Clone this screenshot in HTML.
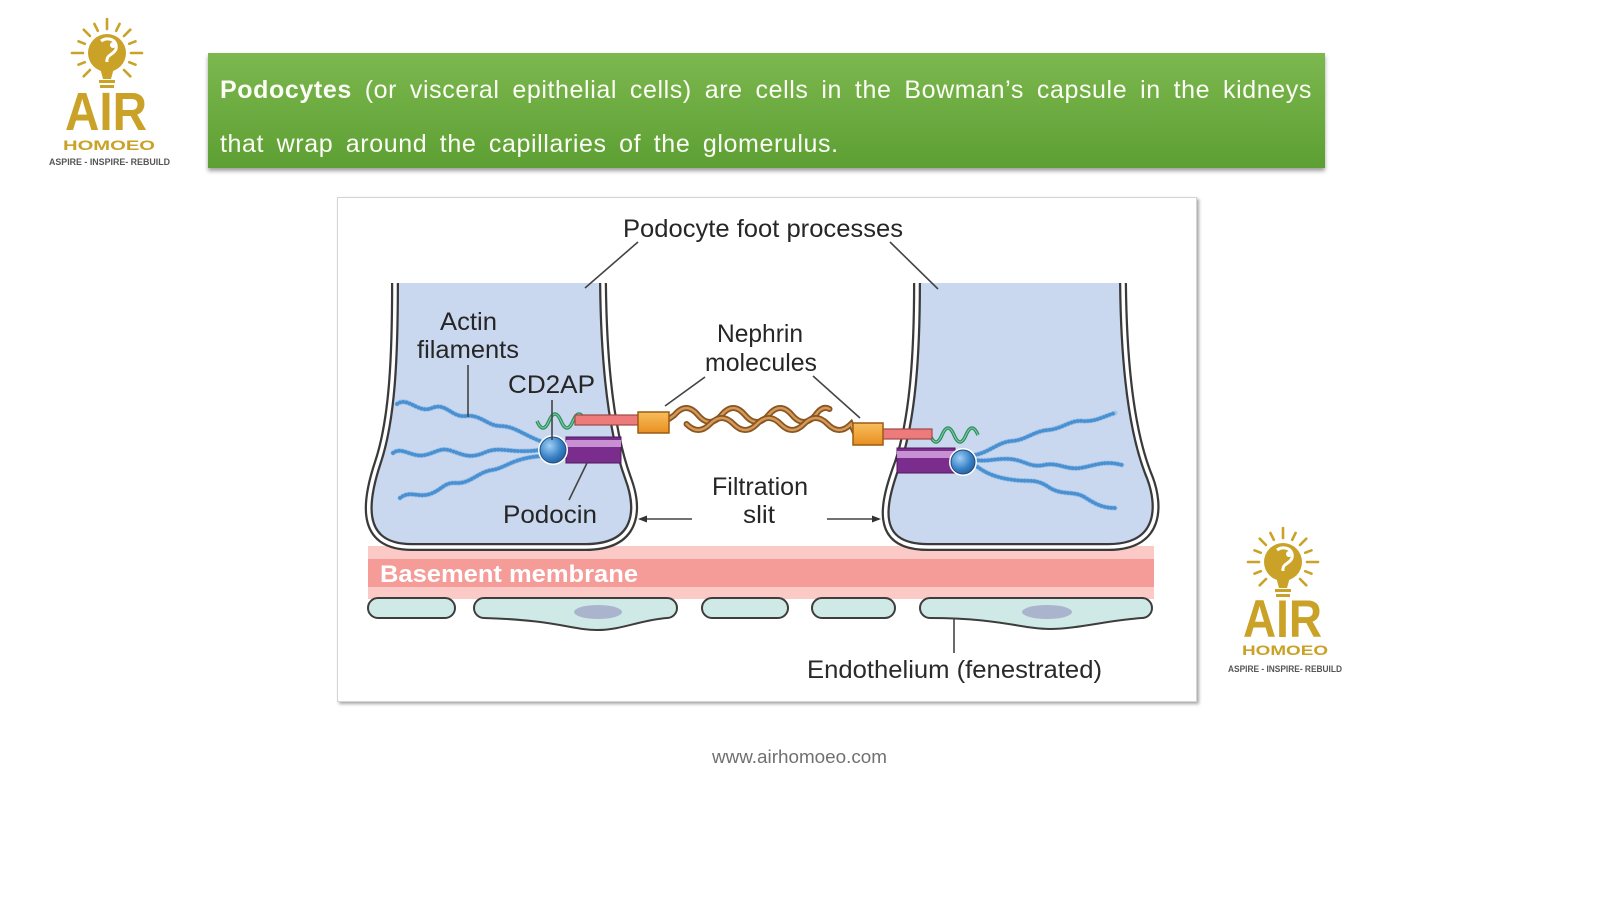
<!DOCTYPE html>
<html><head><meta charset="utf-8">
<style>
html,body{margin:0;padding:0;background:#fff;}
body{width:1600px;height:900px;position:relative;overflow:hidden;font-family:"Liberation Sans",Arial,sans-serif;}
#banner{position:absolute;left:208px;top:53px;width:1117px;height:115px;background:linear-gradient(#7cb84f,#5d9f33);box-shadow:0 3px 4px rgba(0,0,0,.38);}
.bl{position:absolute;left:220px;width:1092px;font-size:25px;line-height:30px;color:#fbfdf6;letter-spacing:0.6px;white-space:normal;}
#l1{top:75px;text-align:justify;text-align-last:justify;}
#l2{top:129px;word-spacing:5px;}
#fig{position:absolute;left:337px;top:197px;width:858px;height:503px;border:1px solid #d4d4d4;box-shadow:2px 2px 3px rgba(0,0,0,.35);background:#fff;}
svg{position:absolute;left:0;top:0;}
</style></head>
<body>
<div id="banner"></div>
<div class="bl" id="l1"><b>Podocytes</b> (or visceral epithelial cells) are cells in the Bowman’s capsule in the kidneys</div>
<div class="bl" id="l2">that wrap around the capillaries of the glomerulus.</div>
<div id="fig"></div>

<svg width="1600" height="900" viewBox="0 0 1600 900" xmlns="http://www.w3.org/2000/svg" font-family="Liberation Sans, Arial, sans-serif">
<defs>
<radialGradient id="sph" cx="0.38" cy="0.35" r="0.7">
<stop offset="0" stop-color="#9fd0f6"/><stop offset="0.6" stop-color="#3b82c8"/><stop offset="1" stop-color="#245a94"/>
</radialGradient>
<linearGradient id="org" x1="0" y1="0" x2="0" y2="1">
<stop offset="0" stop-color="#f8be5c"/><stop offset="1" stop-color="#e88f22"/>
</linearGradient>
</defs>

<!-- LEFT LOGO -->
<g>
<g stroke="#c9a227" stroke-width="2.6" stroke-linecap="round">
<line x1="107" y1="29" x2="107" y2="19"/>
<line x1="116.2" y1="30.8" x2="119.6" y2="23.9"/>
<line x1="124" y1="36" x2="130.3" y2="29.7"/>
<line x1="129.2" y1="43.8" x2="135.5" y2="41.3"/>
<line x1="131" y1="53" x2="142" y2="53"/>
<line x1="129.2" y1="62.2" x2="135.5" y2="64.7"/>
<line x1="124" y1="70" x2="130.3" y2="76.3"/>
<line x1="97.8" y1="30.8" x2="94.4" y2="23.9"/>
<line x1="90" y1="36" x2="83.7" y2="29.7"/>
<line x1="84.8" y1="43.8" x2="78.5" y2="41.3"/>
<line x1="83" y1="53" x2="72" y2="53"/>
<line x1="84.8" y1="62.2" x2="78.5" y2="64.7"/>
<line x1="90" y1="70" x2="83.7" y2="76.3"/>
</g>
<circle cx="107" cy="53" r="19" fill="#c9a227"/>
<path d="M101,41 C108,36 118,40 116,49 C114,55 106,54 107,62" fill="none" stroke="#fff" stroke-width="3"/>
<circle cx="113" cy="45" r="3" fill="#fff"/>
<path d="M100,68 L114,68 L111,79 L103,79 Z" fill="#c9a227"/>
<rect x="99" y="80" width="16" height="3" fill="#c9a227"/>
<rect x="100" y="85" width="14" height="3" fill="#c9a227"/>
<text x="65" y="130" font-size="54" font-weight="bold" fill="#c9a227" textLength="82" lengthAdjust="spacingAndGlyphs">AIR</text>
<text x="63" y="150" font-size="14" font-weight="bold" fill="#c9a227" textLength="92" lengthAdjust="spacingAndGlyphs">HOMOEO</text>
<text x="49" y="165" font-size="9" font-weight="bold" fill="#555" textLength="121" lengthAdjust="spacingAndGlyphs">ASPIRE - INSPIRE- REBUILD</text>
</g>

<!-- RIGHT LOGO -->
<g transform="translate(1176,509)">
<g stroke="#c9a227" stroke-width="2.6" stroke-linecap="round">
<line x1="107" y1="29" x2="107" y2="19"/>
<line x1="116.2" y1="30.8" x2="119.6" y2="23.9"/>
<line x1="124" y1="36" x2="130.3" y2="29.7"/>
<line x1="129.2" y1="43.8" x2="135.5" y2="41.3"/>
<line x1="131" y1="53" x2="142" y2="53"/>
<line x1="129.2" y1="62.2" x2="135.5" y2="64.7"/>
<line x1="124" y1="70" x2="130.3" y2="76.3"/>
<line x1="97.8" y1="30.8" x2="94.4" y2="23.9"/>
<line x1="90" y1="36" x2="83.7" y2="29.7"/>
<line x1="84.8" y1="43.8" x2="78.5" y2="41.3"/>
<line x1="83" y1="53" x2="72" y2="53"/>
<line x1="84.8" y1="62.2" x2="78.5" y2="64.7"/>
<line x1="90" y1="70" x2="83.7" y2="76.3"/>
</g>
<circle cx="107" cy="53" r="19" fill="#c9a227"/>
<path d="M101,41 C108,36 118,40 116,49 C114,55 106,54 107,62" fill="none" stroke="#fff" stroke-width="3"/>
<circle cx="113" cy="45" r="3" fill="#fff"/>
<path d="M100,68 L114,68 L111,79 L103,79 Z" fill="#c9a227"/>
<rect x="99" y="80" width="16" height="3" fill="#c9a227"/>
<rect x="100" y="85" width="14" height="3" fill="#c9a227"/>
<text x="67" y="128" font-size="53" font-weight="bold" fill="#c9a227" textLength="79" lengthAdjust="spacingAndGlyphs">AIR</text>
<text x="66" y="146" font-size="14" font-weight="bold" fill="#c9a227" textLength="86" lengthAdjust="spacingAndGlyphs">HOMOEO</text>
<text x="52" y="163" font-size="9" font-weight="bold" fill="#555" textLength="114" lengthAdjust="spacingAndGlyphs">ASPIRE - INSPIRE- REBUILD</text>
</g>

<!-- BASEMENT MEMBRANE -->
<rect x="368" y="546" width="786" height="53" fill="#fbcac6"/>
<rect x="368" y="559" width="786" height="28" fill="#f59b98"/>
<text x="380" y="582" font-size="24" font-weight="bold" fill="#fff" textLength="258" lengthAdjust="spacingAndGlyphs">Basement membrane</text>

<!-- ENDOTHELIUM -->
<g fill="#cfe9e6" stroke="#3d3d3d" stroke-width="2">
<rect x="368" y="598" width="87" height="20" rx="10"/>
<path d="M484,598 L667,598 A10,10 0 0 1 667,618 C640,620 622,630 597,630 C572,630 556,620 484,618 A10,10 0 0 1 484,598 Z"/>
<rect x="702" y="598" width="86" height="20" rx="10"/>
<rect x="812" y="598" width="83" height="20" rx="10"/>
<path d="M930,598 L1142,598 A10,10 0 0 1 1142,618 C1110,620 1076,629 1050,629 C1022,629 1000,618 930,618 A10,10 0 0 1 930,598 Z"/>
</g>
<ellipse cx="598" cy="612" rx="24" ry="7" fill="#aab5cd"/>
<ellipse cx="1047" cy="612" rx="25" ry="7" fill="#aab5cd"/>
<line x1="954" y1="618" x2="954" y2="653" stroke="#444" stroke-width="1.6"/>
<text x="807" y="678" font-size="25" fill="#2a2a2a" textLength="295" lengthAdjust="spacingAndGlyphs">Endothelium (fenestrated)</text>

<!-- CELLS -->
<path d="M395,283 C395,360 392,420 378,462 C366,498 356,547 412,547 L585,547 C638,547 640,510 628,478 C614,440 604,380 603,283" fill="#c9d7ef" stroke="#3a3a3a" stroke-width="8"/>
<path d="M395,283 C395,360 392,420 378,462 C366,498 356,547 412,547 L585,547 C638,547 640,510 628,478 C614,440 604,380 603,283" fill="none" stroke="#fff" stroke-width="3.5"/>
<path d="M917,283 C917,360 912,420 898,462 C884,500 870,547 928,547 L1108,547 C1162,547 1160,505 1150,478 C1134,440 1124,380 1123,283" fill="#c9d7ef" stroke="#3a3a3a" stroke-width="8"/>
<path d="M917,283 C917,360 912,420 898,462 C884,500 870,547 928,547 L1108,547 C1162,547 1160,505 1150,478 C1134,440 1124,380 1123,283" fill="none" stroke="#fff" stroke-width="3.5"/>

<!-- ACTIN -->
<g fill="none" stroke-linecap="round" stroke-linejoin="round">
<g stroke="#9cc3ea" stroke-width="5">
<path d="M397,404 C408,396 418,414 432,408 C446,402 452,418 466,416 C480,414 488,426 500,426 C514,426 522,434 540,441"/>
<path d="M393,453 C402,446 412,458 425,455 C438,452 440,447 452,451 C464,455 470,459 486,452 C500,446 512,454 540,450"/>
<path d="M400,498 C410,490 418,498 430,494 C442,490 444,482 456,483 C470,484 478,472 492,470 C506,468 512,458 542,456"/>
<path d="M975,455 C990,452 998,442 1012,441 C1026,440 1034,431 1048,430 C1062,429 1070,420 1082,421 C1096,422 1104,416 1115,413"/>
<path d="M975,460 C988,462 996,458 1010,459 C1024,460 1030,468 1044,465 C1058,462 1066,470 1080,468 C1094,466 1104,460 1122,465"/>
<path d="M975,465 C986,474 998,478 1014,480 C1030,482 1036,478 1050,488 C1064,496 1074,490 1086,498 C1098,506 1106,508 1115,508"/>
</g>
<g stroke="#4a90d0" stroke-width="3.8" stroke-dasharray="0.1 3.2">
<path d="M397,404 C408,396 418,414 432,408 C446,402 452,418 466,416 C480,414 488,426 500,426 C514,426 522,434 540,441"/>
<path d="M393,453 C402,446 412,458 425,455 C438,452 440,447 452,451 C464,455 470,459 486,452 C500,446 512,454 540,450"/>
<path d="M400,498 C410,490 418,498 430,494 C442,490 444,482 456,483 C470,484 478,472 492,470 C506,468 512,458 542,456"/>
<path d="M975,455 C990,452 998,442 1012,441 C1026,440 1034,431 1048,430 C1062,429 1070,420 1082,421 C1096,422 1104,416 1115,413"/>
<path d="M975,460 C988,462 996,458 1010,459 C1024,460 1030,468 1044,465 C1058,462 1066,470 1080,468 C1094,466 1104,460 1122,465"/>
<path d="M975,465 C986,474 998,478 1014,480 C1030,482 1036,478 1050,488 C1064,496 1074,490 1086,498 C1098,506 1106,508 1115,508"/>
</g>
</g>

<!-- LEFT MOLECULES -->
<rect x="566" y="437" width="55" height="26" fill="#7a2d8c" stroke="#4d1a5a" stroke-width="1"/>
<rect x="566" y="440" width="55" height="7" fill="#c690d2"/>
<circle cx="553" cy="450" r="14" fill="url(#sph)" stroke="#fff" stroke-width="2"/>
<circle cx="553" cy="450" r="13" fill="none" stroke="#1e4f80" stroke-width="1"/>
<path d="M537,421 q6,14 12,0 t12,0 t12,0 t12,0" fill="none" stroke="#2f8f5f" stroke-width="3.5"/>
<path d="M537,421 q6,14 12,0 t12,0 t12,0 t12,0" fill="none" stroke="#7fd0a4" stroke-width="1"/>
<rect x="575" y="415" width="65" height="10" fill="#ee7b7b" stroke="#a04848" stroke-width="1.2"/>

<!-- RIGHT MOLECULES -->
<rect x="897" y="448" width="58" height="25" fill="#7a2d8c" stroke="#4d1a5a" stroke-width="1"/>
<rect x="897" y="451" width="58" height="7" fill="#c690d2"/>
<circle cx="963" cy="462" r="13" fill="url(#sph)" stroke="#fff" stroke-width="2"/>
<circle cx="963" cy="462" r="12" fill="none" stroke="#1e4f80" stroke-width="1"/>
<path d="M930,435 q6,14 12,0 t12,0 t12,0 t12,0" fill="none" stroke="#2f8f5f" stroke-width="3.5"/>
<path d="M930,435 q6,14 12,0 t12,0 t12,0 t12,0" fill="none" stroke="#7fd0a4" stroke-width="1"/>
<rect x="881" y="429" width="51" height="10" fill="#ee7b7b" stroke="#a04848" stroke-width="1.2"/>

<!-- NEPHRIN STRANDS -->
<g fill="none" stroke-linecap="round">
<path d="M669,419 L674.5,415 q11.75,-14 23.5,0 t23.5,0 t23.5,0 t23.5,0 t23.5,0 t23.5,0 q7,-10 14,-6" stroke="#8a5522" stroke-width="6"/>
<path d="M669,419 L674.5,415 q11.75,-14 23.5,0 t23.5,0 t23.5,0 t23.5,0 t23.5,0 t23.5,0 q7,-10 14,-6" stroke="#d49a58" stroke-width="2.4"/>
<path d="M686.5,424 q11.75,12 23.5,0 t23.5,0 t23.5,0 t23.5,0 t23.5,0 t23.5,0 t23.5,0 L855,433" stroke="#8a5522" stroke-width="6"/>
<path d="M686.5,424 q11.75,12 23.5,0 t23.5,0 t23.5,0 t23.5,0 t23.5,0 t23.5,0 t23.5,0 L855,433" stroke="#d49a58" stroke-width="2.4"/>
</g>
<rect x="638" y="412" width="31" height="21" fill="url(#org)" stroke="#9a5c12" stroke-width="1.5"/>
<rect x="853" y="423" width="30" height="22" fill="url(#org)" stroke="#9a5c12" stroke-width="1.5"/>

<!-- LEADERS -->
<g stroke="#444" stroke-width="1.6" fill="none">
<line x1="638" y1="242" x2="585" y2="288"/>
<line x1="890" y1="242" x2="938" y2="289"/>
<line x1="468" y1="365" x2="468" y2="417"/>
<line x1="552" y1="400" x2="552" y2="440"/>
<line x1="587" y1="463" x2="569" y2="500"/>
<line x1="705" y1="377" x2="665" y2="406"/>
<line x1="813" y1="376" x2="860" y2="418"/>
<line x1="692" y1="519" x2="645" y2="519"/>
<line x1="827" y1="519" x2="874" y2="519"/>
</g>
<path d="M638,519 L647,515.5 L647,522.5 Z" fill="#333"/>
<path d="M881,519 L872,515.5 L872,522.5 Z" fill="#333"/>

<!-- LABELS -->
<g fill="#262626" font-size="25">
<text x="623" y="237" textLength="280" lengthAdjust="spacingAndGlyphs">Podocyte foot processes</text>
<text x="440" y="330" textLength="57" lengthAdjust="spacingAndGlyphs">Actin</text>
<text x="417" y="358" textLength="102" lengthAdjust="spacingAndGlyphs">filaments</text>
<text x="508" y="393" textLength="87" lengthAdjust="spacingAndGlyphs">CD2AP</text>
<text x="503" y="523" textLength="94" lengthAdjust="spacingAndGlyphs">Podocin</text>
<text x="717" y="342" textLength="86" lengthAdjust="spacingAndGlyphs">Nephrin</text>
<text x="705" y="371" textLength="112" lengthAdjust="spacingAndGlyphs">molecules</text>
<text x="712" y="495" textLength="96" lengthAdjust="spacingAndGlyphs">Filtration</text>
<text x="743" y="523" textLength="32" lengthAdjust="spacingAndGlyphs">slit</text>
</g>

<text x="712" y="763" font-size="18" fill="#707070" textLength="175" lengthAdjust="spacingAndGlyphs">www.airhomoeo.com</text>
</svg>
</body></html>
